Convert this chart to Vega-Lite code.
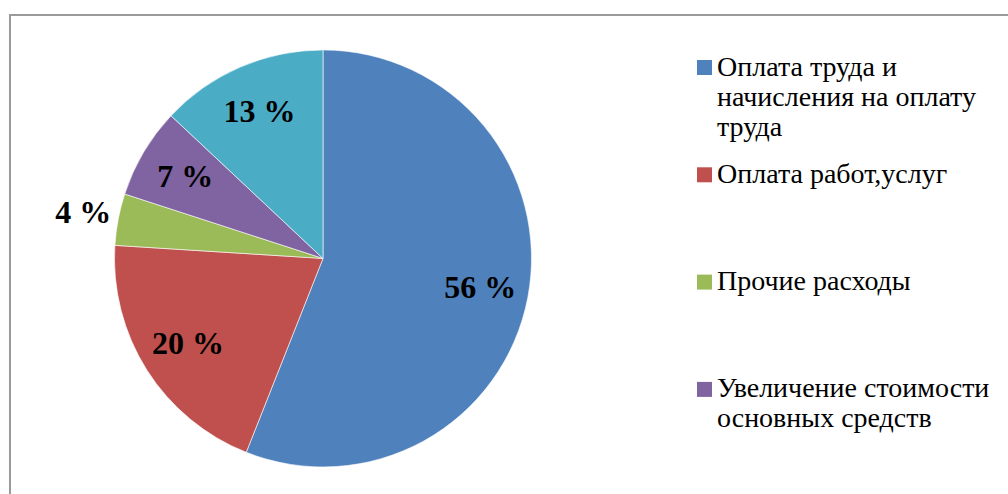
{
  "$schema": "https://vega.github.io/schema/vega-lite/v6.json",
  "width": 1010,
  "height": 484,
  "autosize": {"type": "none"},
  "padding": {"left": 10, "top": 15, "right": 0, "bottom": 0},
  "background": "white",
  "config": {"view": {"stroke": "#9a9a9a", "strokeWidth": 2}},
  "data": {
    "values": [
      {"cat": "Оплата труда и начисления на оплату труда", "value": 56, "order": 1},
      {"cat": "Оплата работ,услуг", "value": 20, "order": 2},
      {"cat": "Прочие расходы", "value": 4, "order": 3},
      {"cat": "Увеличение стоимости основных средств", "value": 7, "order": 4},
      {"cat": "Увеличение стоимости материальных запасов", "value": 13, "order": 5}
    ]
  },
  "transform": [{"calculate": "datum.value + ' %'", "as": "label"}],
  "encoding": {
    "theta": {"field": "value", "type": "quantitative", "stack": true},
    "order": {"field": "order", "type": "quantitative"},
    "x": {"datum": 0.3099, "type": "quantitative", "scale": {"domain": [0, 1]}, "axis": null},
    "y": {"datum": 0.503, "type": "quantitative", "scale": {"domain": [0, 1], "reverse": true}, "axis": null}
  },
  "layer": [
    {
      "mark": {"type": "arc", "outerRadius": 208.5, "stroke": "white", "strokeWidth": 0.6},
      "encoding": {
        "color": {
          "field": "cat",
          "type": "nominal",
          "scale": {
            "domain": [
              "Оплата труда и начисления на оплату труда",
              "Оплата работ,услуг",
              "Прочие расходы",
              "Увеличение стоимости основных средств",
              "Увеличение стоимости материальных запасов"
            ],
            "range": ["#4F81BD", "#C0504D", "#9BBB59", "#8064A2", "#4BACC6"]
          },
          "legend": {
            "orient": "none",
            "legendX": 680.5,
            "legendY": 38.5,
            "title": null,
            "padding": 0,
            "values": [
              "Оплата труда и начисления на оплату труда",
              "Оплата работ,услуг",
              "Прочие расходы",
              "Увеличение стоимости основных средств"
            ],
            "symbolType": "square",
            "symbolSize": 225,
            "symbolStrokeWidth": 0,
            "symbolOpacity": 1,
            "labelFont": "Liberation Serif",
            "labelFontSize": 28,
            "labelColor": "#000000",
            "labelLimit": 500,
            "labelOffset": -1.5,
            "gridAlign": "all",
            "rowPadding": 19.3,
            "labelExpr": "datum.label == 'Оплата труда и начисления на оплату труда' ? ['Оплата труда и', 'начисления на оплату', 'труда'] : datum.label == 'Увеличение стоимости основных средств' ? ['Увеличение стоимости', 'основных средств'] : datum.label",
            "encode": {"labels": {"update": {"lineHeight": {"value": 32}}}}
          }
        }
      }
    },
    {
      "mark": {"type": "text", "radius": 160, "font": "Liberation Serif", "fontSize": 32, "fontWeight": "bold", "fill": "#000000", "align": "center", "baseline": "middle"},
      "encoding": {
        "text": {"condition": {"test": "datum.cat !== 'Прочие расходы'", "field": "label"}, "value": ""}
      }
    },
    {
      "mark": {"type": "text", "radius": 244, "font": "Liberation Serif", "fontSize": 32, "fontWeight": "bold", "fill": "#000000", "align": "center", "baseline": "middle"},
      "encoding": {
        "text": {"condition": {"test": "datum.cat === 'Прочие расходы'", "field": "label"}, "value": ""}
      }
    }
  ]
}
